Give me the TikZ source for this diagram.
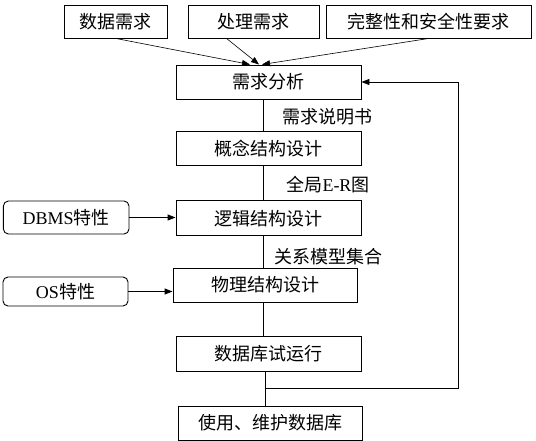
\documentclass[tikz,border=0pt]{standalone}
\usepackage{fontspec}
\setmainfont{Liberation Serif}
\newfontfamily\cjk{Noto Sans CJK SC}
\usetikzlibrary{arrows.meta}
\begin{document}
\begin{tikzpicture}[x=1pt,y=-1pt,
  every node/.style={font=\fontsize{18pt}{20pt}\selectfont\cjk, inner sep=0pt},
  box/.style={draw, line width=0.9pt, minimum height=34pt},
  rbox/.style={draw, line width=0.9pt, rounded corners=5pt, minimum height=32pt},
  lbl/.style={},
  ln/.style={line width=0.9pt},
  arr/.style={line width=0.9pt, -{Triangle[length=8pt,width=6pt]}},
  thin arr/.style={line width=0.6pt, -{Triangle[length=8pt,width=6pt]}}]
\useasboundingbox (0,0) rectangle (536,441);
% top requirement boxes
\node[box, minimum width=103.5pt, minimum height=33pt] (d1) at (115.8,21.5) {数据需求};
\node[box, minimum width=131pt, minimum height=33pt] (d2) at (253.5,21.5) {处理需求};
\node[box, minimum width=204.5pt, minimum height=33pt] (d3) at (428.8,21.5) {完整性和安全性要求};
% main chain
\node[box, minimum width=185pt] (a) at (268.5,82) {需求分析};
\node[box, minimum width=185pt] (b) at (268.5,148.3) {概念结构设计};
\node[box, minimum width=185pt, minimum height=35pt] (c) at (268.5,218.3) {逻辑结构设计};
\node[box, minimum width=184pt] (p) at (265,285) {物理结构设计};
\node[box, minimum width=185pt, minimum height=35pt] (t) at (268.5,353.5) {数据库试运行};
\node[box, minimum width=184pt] (u) at (270.3,423) {使用、维护数据库};
% side boxes
\node[rbox, minimum width=125.6pt, minimum height=33pt] (dbms) at (66.2,217.5) {{\rmfamily DBMS}特性};
\node[rbox, minimum width=125pt, minimum height=29pt] (os) at (65.5,291.5) {{\rmfamily OS}特性};
% labels
\node[lbl] (l1) at (327,117) {需求说明书};
\node[lbl] (l2) at (328,184.5) {全局{\rmfamily E-R}图};
\node[lbl] (l3) at (328,257) {关系模型集合};
% coordinates
\coordinate (m) at (263,0);
\coordinate (n) at (265,0);
\coordinate (j) at (265,388);
\coordinate (r) at (458,388);
\coordinate (t1) at (250,64.5);
\coordinate (t2) at (259,64.5);
\coordinate (t3) at (262,64.5);
% top arrows
\draw[thin arr] (d1.south) -- (t1);
\draw[thin arr] ([xshift=-27pt]d2.south) -- (t2);
\draw[thin arr] (d3.south) -- (t3);
% chain lines
\draw[ln] (a.south -| m) -- (b.north -| m);
\draw[ln] (b.south -| m) -- (c.north -| m);
\draw[ln] (c.south -| m) -- (p.north -| m);
\draw[ln] (p.south -| m) -- (t.north -| m);
\draw[ln] (t.south -| n) -- (u.north -| n);
% side arrows
\draw[arr] (dbms.east) -- (c.west |- dbms.east);
\draw[arr] (os.east) -- (p.west |- os.east);
% feedback
\draw[arr] (j) -- (r) |- (a.east);
\end{tikzpicture}
\end{document}
